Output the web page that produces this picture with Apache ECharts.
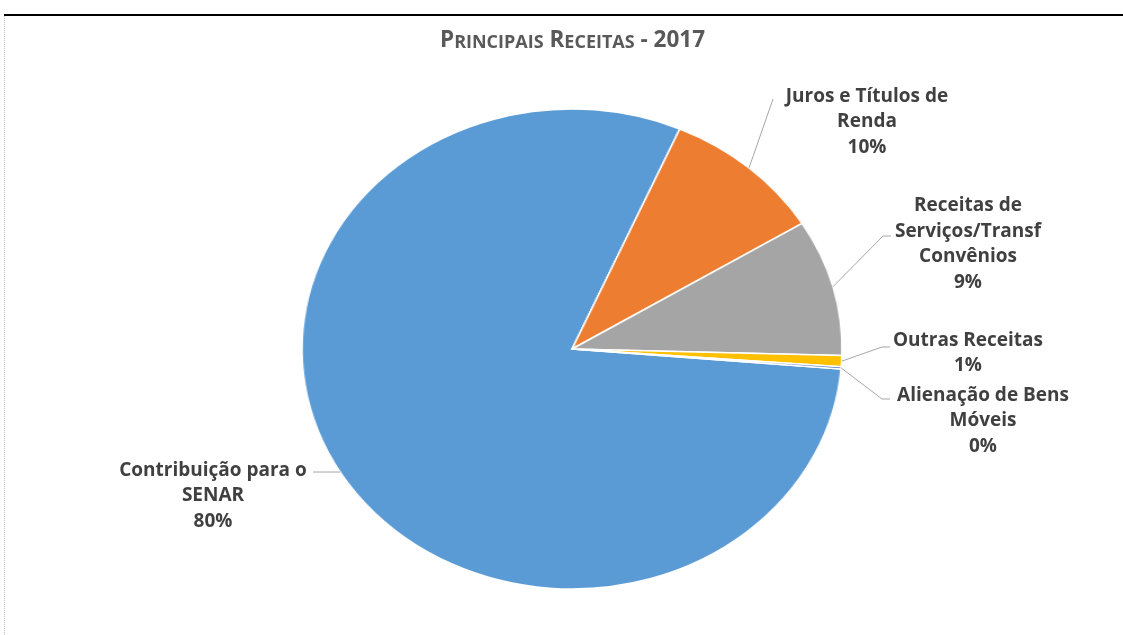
<!DOCTYPE html>
<html><head><meta charset="utf-8">
<script src="https://cdn.jsdelivr.net/npm/echarts@6/dist/echarts.min.js"></script>
<style>
html,body{margin:0;padding:0;background:#fff;width:1123px;height:635px;overflow:hidden}
#pie,#over{position:absolute;left:0;top:0;width:1123px;height:635px}
#pie{transform:scaleX(1.125);transform-origin:572px 349px}
#over{pointer-events:none}
</style></head><body>
<div id="pie"></div><div id="over"></div>
<script>
const title = 'Principais Receitas - 2017';
const categories = ['Contribuição para o\nSENAR', 'Juros e Títulos de\nRenda', 'Receitas de\nServiços/Transf\nConvênios', 'Outras Receitas', 'Alienação de Bens\nMóveis'];
const values = [80.2, 9.7, 9.2, 0.75, 0.15];
const colors = ['#5B9BD5', '#ED7D31', '#A5A5A5', '#FFC000', '#4472C4'];

const CX = 572, CY = 349, R = 240, SX = 1.125, START = 355.2;
// label layout: [centerX, centerY, elbowX, elbowY, endX]
const labelPos = [
  [213, 496, 313, 472, 313],
  [867, 122, 773, 99, 773],
  [968, 244, 883, 236, 891],
  [968, 353, 882, 347, 890],
  [983, 421, 882, 399, 890]
];

const total = values.reduce((a, b) => a + b, 0);
function edge(i) {
  let cum = 0;
  for (let k = 0; k < i; k++) cum += values[k];
  const mid = (cum + values[i] / 2) / total * 360;
  const a = (START - mid) * Math.PI / 180;
  return [CX + R * SX * Math.cos(a), CY - R * Math.sin(a)];
}
function smallCaps(s) {
  let out = '', cur = null, buf = '';
  for (const ch of s) {
    const t = (ch !== ch.toUpperCase()) ? 'b' : 'a';
    if (t !== cur) { if (buf) out += '{' + cur + '|' + buf + '}'; cur = t; buf = ''; }
    buf += ch.toUpperCase();
  }
  if (buf) out += '{' + cur + '|' + buf + '}';
  return out;
}
const pieData = categories.map((n, i) => ({ name: n, value: values[i], itemStyle: { color: colors[i] } }));

const pieChart = echarts.init(document.getElementById('pie'), null, { renderer: 'canvas' });
pieChart.setOption({
  animation: false,
  series: [{
    type: 'pie', center: [CX, CY], radius: R, startAngle: START, clockwise: true,
    silent: true, label: { show: false }, labelLine: { show: false },
    itemStyle: { borderColor: '#fff', borderWidth: 1.5 },
    emphasis: { disabled: true },
    data: pieData
  }]
});

const over = echarts.init(document.getElementById('over'), null, { renderer: 'canvas' });
const txt = { fontFamily: 'Open Sans', fontWeight: 'bold', color: '#595959', verticalAlign: 'bottom', lineHeight: 26 };
over.setOption({
  animation: false,
  title: {
    text: smallCaps(title), left: 435, top: 21,
    textStyle: { rich: { a: Object.assign({ fontSize: 22.5 }, txt), b: Object.assign({ fontSize: 18 }, txt) } }
  },
  graphic: [
    { type: 'line', silent: true, shape: { x1: 4, y1: 15, x2: 1123, y2: 15 }, style: { stroke: '#000', lineWidth: 2 } },
    { type: 'line', silent: true, shape: { x1: 4.5, y1: 16, x2: 4.5, y2: 635 }, style: { stroke: '#c0c0c0', lineWidth: 1, lineDash: [1, 1] } }
  ],
  series: [{
    type: 'pie', center: [CX, CY], radius: R, startAngle: START, clockwise: true,
    silent: true, avoidLabelOverlap: false,
    itemStyle: { color: 'rgba(0,0,0,0)', borderWidth: 0 },
    emphasis: { disabled: true },
    label: {
      show: true, position: 'outside',
      formatter: p => p.name + '\n' + Math.round(p.percent) + '%',
      fontFamily: 'Open Sans', fontWeight: 'bold', fontSize: 19, lineHeight: 25.5, color: '#404040', align: 'center'
    },
    labelLine: { show: true, length: 10, length2: 10, lineStyle: { color: '#a6a6a6', width: 1 } },
    labelLayout: function (p) {
      const i = p.dataIndex, L = labelPos[i], e = edge(i);
      return { x: L[0], y: L[1], align: 'center', verticalAlign: 'middle',
        labelLinePoints: [e, [L[2], L[3]], [L[4], L[3]]] };
    },
    data: categories.map((n, i) => ({ name: n, value: values[i] }))
  }]
});
</script>
</body></html>
